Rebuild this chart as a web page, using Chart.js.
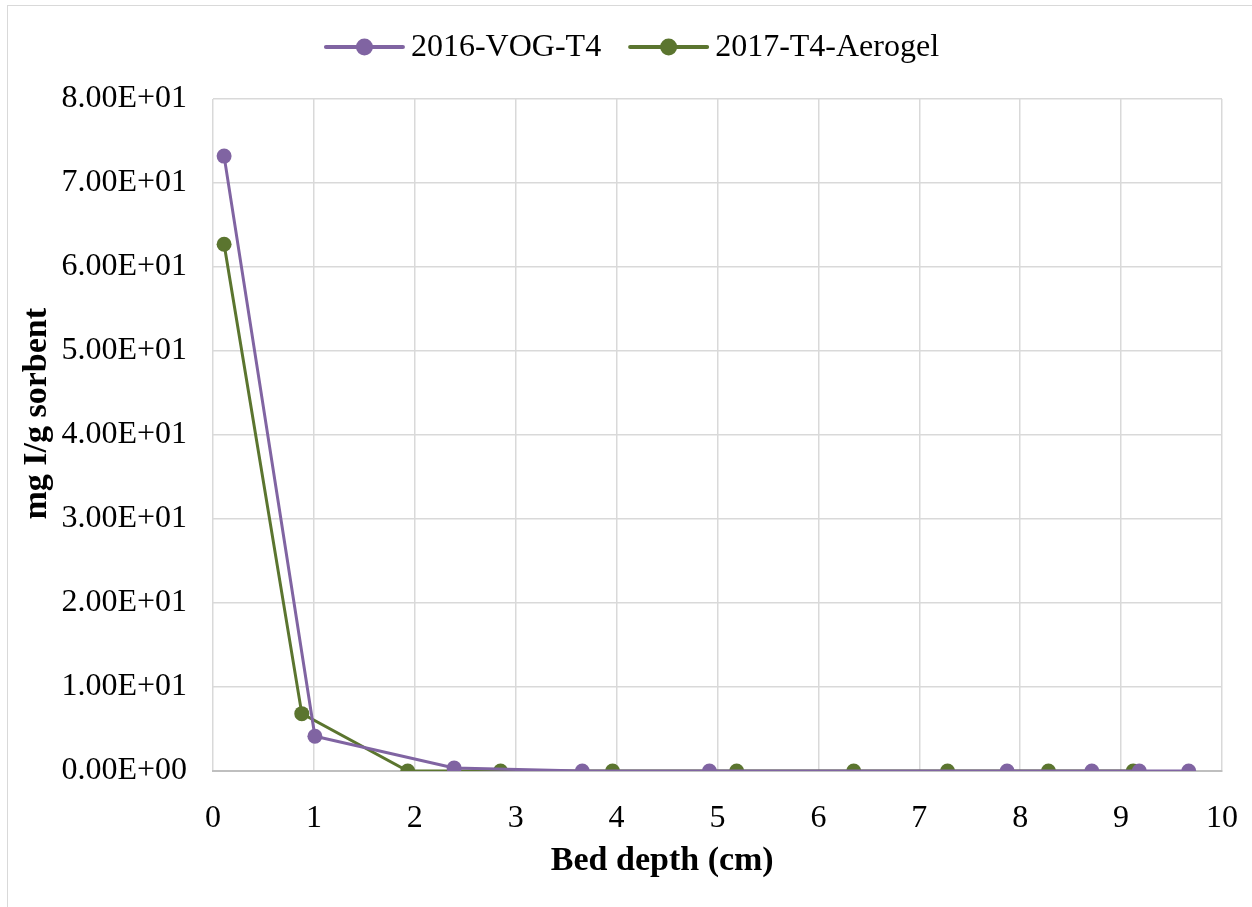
<!DOCTYPE html>
<html>
<head>
<meta charset="utf-8">
<script src="https://cdn.jsdelivr.net/npm/chart.js@4.4.1/dist/chart.umd.min.js"></script>
<style>
  html, body { margin: 0; padding: 0; background: #fff; }
  #wrap { position: relative; width: 1252px; height: 907px; }
  #frame { position: absolute; left: 7px; top: 5px; right: 0; bottom: 0; border-left: 1.5px solid #d9d9d9; border-top: 1.5px solid #d9d9d9; pointer-events: none; }
  canvas { position: absolute; left: 0; top: 0; }
</style>
</head>
<body>
<div id="wrap">
  <canvas id="c" width="1252" height="907"></canvas>
  <div id="frame"></div>
</div>
<script>
const seriesNames = ['2016-VOG-T4', '2017-T4-Aerogel'];
const vogX = [0.11, 1.01, 2.39, 3.66, 4.92, 7.87, 8.71, 9.18, 9.67];
const vogY = [73.2, 4.13, 0.35, 0, 0, 0, 0, 0, 0];
const aeroX = [0.11, 0.88, 1.93, 2.85, 3.96, 5.19, 6.35, 7.28, 8.28, 9.12];
const aeroY = [62.7, 6.83, 0, 0, 0, 0, 0, 0, 0, 0];
const xTicks = [0, 1, 2, 3, 4, 5, 6, 7, 8, 9, 10];
const yTicks = [0, 10, 20, 30, 40, 50, 60, 70, 80];

const toPts = (xs, ys) => xs.map((x, i) => ({ x: x, y: ys[i] }));
const purple = '#8064a2';
const green = '#5b752f';
const font = 'Liberation Serif, Times New Roman, serif';

// Legend drawn in Excel style: line with a marker in the middle, then text
const excelLegend = {
  id: 'excelLegend',
  afterDraw(chart) {
    const ctx = chart.ctx;
    const sw = 79, gapText = 7, gapItem = 28, y = 47;
    ctx.save();
    ctx.font = '32px ' + font;
    const items = chart.data.datasets.map(d => ({ d, w: ctx.measureText(d.label).width }));
    const total = items.reduce((s, it) => s + sw + gapText + it.w, 0) + gapItem * (items.length - 1);
    let x = 632 - total / 2;
    items.forEach(it => {
      ctx.strokeStyle = it.d.borderColor;
      ctx.lineWidth = 4;
      ctx.lineCap = 'round';
      ctx.beginPath(); ctx.moveTo(x + 1, y); ctx.lineTo(x + sw - 1, y); ctx.stroke();
      ctx.fillStyle = it.d.backgroundColor;
      ctx.beginPath(); ctx.arc(x + sw / 2, y, 8.5, 0, Math.PI * 2); ctx.fill();
      ctx.fillStyle = '#000';
      ctx.textBaseline = 'middle';
      ctx.textAlign = 'left';
      ctx.fillText(it.d.label, x + sw + gapText, y + 1);
      x += sw + gapText + it.w + gapItem;
    });
    ctx.restore();
  }
};

new Chart(document.getElementById('c'), {
  type: 'line',
  data: {
    datasets: [
      { label: seriesNames[0], data: toPts(vogX, vogY), borderColor: purple, backgroundColor: purple,
        borderWidth: 3, pointRadius: 7.5, pointHoverRadius: 7.5, pointBorderWidth: 0, tension: 0 },
      { label: seriesNames[1], data: toPts(aeroX, aeroY), borderColor: green, backgroundColor: green,
        borderWidth: 3, pointRadius: 7.5, pointHoverRadius: 7.5, pointBorderWidth: 0, tension: 0 }
    ]
  },
  plugins: [excelLegend],
  options: {
    responsive: false,
    animation: false,
    layout: { padding: { left: 10, right: 30, top: 99, bottom: 25 } },
    plugins: {
      tooltip: { enabled: false },
      legend: { display: false }
    },
    scales: {
      x: {
        type: 'linear', min: 0, max: 10,
        afterBuildTicks: (s) => { s.ticks = xTicks.map(v => ({ value: v })); },
        afterFit: (s) => { s.height = 111; s.paddingRight = 0; s.paddingLeft = 0; },
        grid: { color: '#d9d9d9', lineWidth: 1.5, drawTicks: false },
        border: { color: '#bfbfbf', width: 2 },
        ticks: { font: { family: font, size: 32 }, color: '#000', padding: 28, maxRotation: 0 },
        title: { display: true, text: 'Bed depth (cm)             ', font: { family: font, size: 34, weight: 'bold' }, color: '#000', padding: { top: 0, bottom: 0 } }
      },
      y: {
        type: 'linear', min: 0, max: 80,
        afterBuildTicks: (s) => { s.ticks = yTicks.map(v => ({ value: v })); },
        afterFit: (s) => { s.width = 203; s.paddingTop = 0; s.paddingBottom = 0; },
        grid: { color: '#d9d9d9', lineWidth: 1.5, drawTicks: false },
        border: { display: false },
        ticks: {
          font: { family: font, size: 32 }, color: '#000', padding: 26,
          callback: (v) => {
            if (v === 0) return '0.00E+00';
            const e = Math.floor(Math.log10(Math.abs(v)));
            const m = v / Math.pow(10, e);
            return m.toFixed(2) + 'E+' + String(e).padStart(2, '0');
          }
        },
        title: { display: true, text: '     mg I/g sorbent', font: { family: font, size: 34, weight: 'bold' }, color: '#000', padding: { top: 7, bottom: 0 } }
      }
    }
  }
});
</script>
</body>
</html>
